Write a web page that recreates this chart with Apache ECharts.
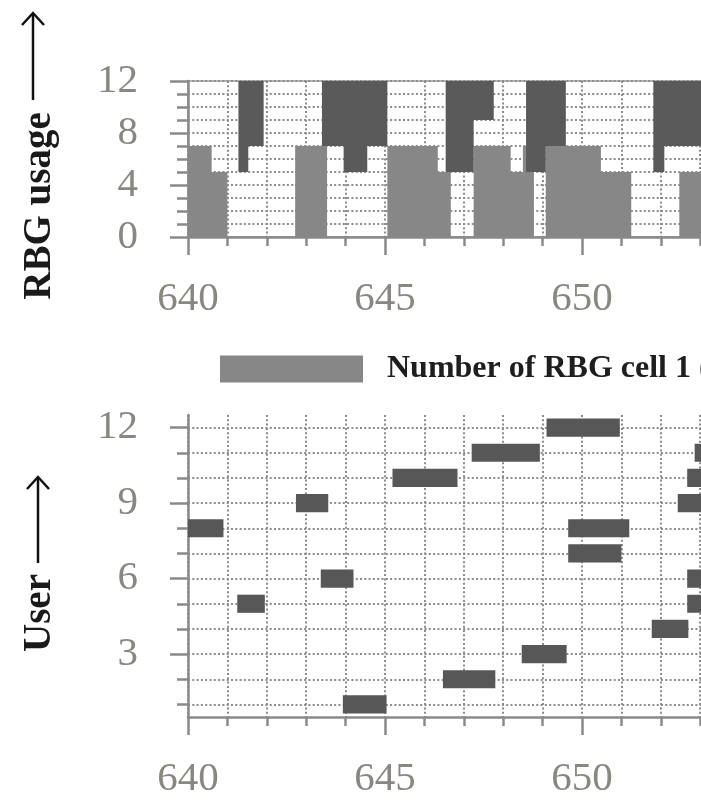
<!DOCTYPE html>
<html>
<head>
<meta charset="utf-8">
<script src="https://cdn.jsdelivr.net/npm/echarts@6/dist/echarts.min.js"></script>
<style>
html,body{margin:0;padding:0;background:#fff;overflow:hidden;width:701px;height:804px;}
#chart{width:1600px;height:804px;}
</style>
</head>
<body>
<div id="chart"></div>
<script>
// ---- data ----
// top chart: RBG usage (step functions over time)
const c1Times  = [640, 640.6, 641, 642.72, 643.53, 645.06, 646.34, 646.67, 647.25, 648.19, 648.5, 648.78, 649.08, 650.48, 651.25, 652.47, 660];
const c1Values = [7,   5,     0,   7,      0,      7,      5,      0,      7,      5,      7,     0,      7,      5,      0,      5,      5];
const c2Times  = [640, 641.28, 641.53, 641.92, 643.4, 643.95, 644.55, 645.06, 646.54, 647.25, 647.76, 648.58, 649.08, 649.59, 651.81, 652.09, 660];
const c2Values = [0,   7,      5,      0,      5,     7,      5,      0,      7,      3,      0,      7,      5,      0,      7,      5,      5];
const rbgTotal = 12;

// bottom chart: user scheduling intervals
const barUser  = [8,     5,      9,      6,      1,      10,     2,      11,    3,      12,    8,      7,      4,      9,      10,     11,     6,      5];
const barStart = [640.0, 641.25, 642.74, 643.37, 643.93, 645.19, 646.47, 647.2, 648.47, 649.1, 649.65, 649.65, 651.77, 652.43, 652.67, 652.86, 652.67, 652.67];
const barEnd   = [640.9, 641.95, 643.56, 644.2,  645.04, 646.84, 647.8,  648.93, 649.61, 650.96, 651.2, 651.0,  652.7,  654,    654,    654,    654,    654];

// ticks
const xMin = 640, xMax = 660, xStep = 5;
const topYTicks = [0, 4, 8, 12];
const userMinorTicks = [1,2,3,4,5,6,7,8,9,10,11,12];
const userLabelTicks = [3, 6, 9, 12];

const seriesName1 = 'Number of RBG cell 1 (bottom)';
const seriesName2 = 'Number of RBG cell 2 (top)';

// ---- styles ----
const axisGray = '#8a8a8a';
const gridDot = { color: '#8c8c8c', width: 2, type: [2, 2.3] };
const labelFont = { fontFamily: 'Liberation Serif', fontSize: 41, color: '#8a8782' };

function xAxisCfg(gridIndex) {
  return {
    type: 'value', gridIndex: gridIndex, min: xMin, max: xMax, interval: xStep,
    axisLine: { show: true, onZero: false, lineStyle: { color: axisGray, width: 2.5 } },
    axisTick: { show: true, length: 18, lineStyle: { color: axisGray, width: 2.5 } },
    minorTick: { show: true, splitNumber: 5, length: 9, lineStyle: { color: axisGray, width: 2.5 } },
    axisLabel: Object.assign({ margin: 42 }, labelFont),
    splitLine: { show: true, lineStyle: gridDot },
    minorSplitLine: { show: true, lineStyle: gridDot }
  };
}

const chart = echarts.init(document.getElementById('chart'), null, { renderer: 'canvas', width: 1600, height: 804 });

const c1Data = c1Times.map((t, i) => [t, c1Values[i]]);
const c2Data = c2Times.map((t, i) => [t, rbgTotal - c2Values[i]]);
const barData = barUser.map((u, i) => [barStart[i], barEnd[i], u]);

const option = {
  backgroundColor: '#fff',
  animation: false,
  grid: [
    { left: 188, top: 81, width: 788, height: 156, show: true, borderColor: '#a0a0a0', borderWidth: 1.5, backgroundColor: 'transparent' },
    { left: 188, top: 415, width: 788, height: 302 }
  ],
  legend: {
    data: [seriesName1, seriesName2],
    left: 215, top: 348, orient: 'horizontal',
    itemWidth: 143, itemHeight: 27, itemGap: 80,
    icon: 'rect',
    textStyle: { fontFamily: 'Liberation Serif', fontWeight: 'bold', fontSize: 32, color: '#1e1e1e', padding: [0, 0, 0, 19] }
  },
  xAxis: [xAxisCfg(0), xAxisCfg(1)],
  yAxis: [
    {
      type: 'value', gridIndex: 0, position: 'left', min: topYTicks[0], max: topYTicks[topYTicks.length - 1], interval: topYTicks[1] - topYTicks[0],
      axisLine: { show: true, lineStyle: { color: axisGray, width: 2.5 } },
      axisTick: { show: true, length: 18, lineStyle: { color: axisGray, width: 2.5 } },
      minorTick: { show: true, splitNumber: 4, length: 11, lineStyle: { color: axisGray, width: 2.5 } },
      axisLabel: Object.assign({ margin: 50 }, labelFont),
      splitLine: { show: true, lineStyle: gridDot },
      minorSplitLine: { show: true, lineStyle: gridDot }
    },
    {
      type: 'value', gridIndex: 1, position: 'left', offset: 0, min: 0.5, max: 12.5,
      axisLine: { show: true, lineStyle: { color: axisGray, width: 2.5 } },
      axisTick: { show: true, length: 11, customValues: userMinorTicks, lineStyle: { color: axisGray, width: 2.5 } },
      axisLabel: { show: false },
      splitLine: { show: true, lineStyle: gridDot }
    },
    {
      type: 'value', gridIndex: 1, position: 'left', offset: 0, min: 0.5, max: 12.5,
      axisLine: { show: false },
      axisTick: { show: true, length: 18, customValues: userLabelTicks, lineStyle: { color: axisGray, width: 2.5 } },
      axisLabel: Object.assign({ margin: 50, customValues: userLabelTicks }, labelFont),
      splitLine: { show: false }
    }
  ],
  series: [
    {
      name: seriesName1, type: 'line', xAxisIndex: 0, yAxisIndex: 0, step: 'end',
      data: c1Data, showSymbol: false, symbol: 'none',
      itemStyle: { color: '#878787' },
      lineStyle: { width: 0 },
      areaStyle: { color: '#878787', opacity: 1 }
    },
    {
      name: seriesName2, type: 'line', xAxisIndex: 0, yAxisIndex: 0, step: 'end',
      data: c2Data, showSymbol: false, symbol: 'none',
      itemStyle: { color: '#5a5a5a' },
      lineStyle: { width: 0 },
      areaStyle: { color: '#5a5a5a', opacity: 1, origin: 'end' }
    },
    {
      name: 'Users', type: 'custom', xAxisIndex: 1, yAxisIndex: 1,
      data: barData,
      encode: { x: [0, 1], y: 2 },
      renderItem: function (params, api) {
        const p0 = api.coord([api.value(0), api.value(2)]);
        const p1 = api.coord([api.value(1), api.value(2)]);
        const h = api.size([0, 0.72])[1];
        const shape = echarts.graphic.clipRectByRect(
          { x: p0[0], y: p0[1] - h / 2, width: p1[0] - p0[0], height: h },
          { x: params.coordSys.x, y: params.coordSys.y, width: params.coordSys.width, height: params.coordSys.height }
        );
        return shape && { type: 'rect', shape: shape, style: { fill: '#575757' } };
      }
    }
  ],
  graphic: [
    { type: 'text', x: 40, y: 206, rotation: Math.PI / 2,
      style: { text: 'RBG usage', fontFamily: 'Liberation Serif', fontWeight: 'bold', fontSize: 39, fill: '#1a1a1a', align: 'center', verticalAlign: 'middle' } },
    { type: 'line', shape: { x1: 33, y1: 100, x2: 33, y2: 15 }, style: { stroke: '#111', lineWidth: 2.5 } },
    { type: 'polyline', shape: { points: [[22, 25], [33, 13], [44, 25]] }, style: { stroke: '#111', lineWidth: 2.5, fill: null } },
    { type: 'text', x: 40, y: 613, rotation: Math.PI / 2,
      style: { text: 'User', fontFamily: 'Liberation Serif', fontWeight: 'bold', fontSize: 39, fill: '#1a1a1a', align: 'center', verticalAlign: 'middle' } },
    { type: 'line', shape: { x1: 38, y1: 563, x2: 38, y2: 479 }, style: { stroke: '#111', lineWidth: 2.5 } },
    { type: 'polyline', shape: { points: [[27, 489], [38, 477], [49, 489]] }, style: { stroke: '#111', lineWidth: 2.5, fill: null } }
  ]
};
chart.setOption(option);
</script>
</body>
</html>
